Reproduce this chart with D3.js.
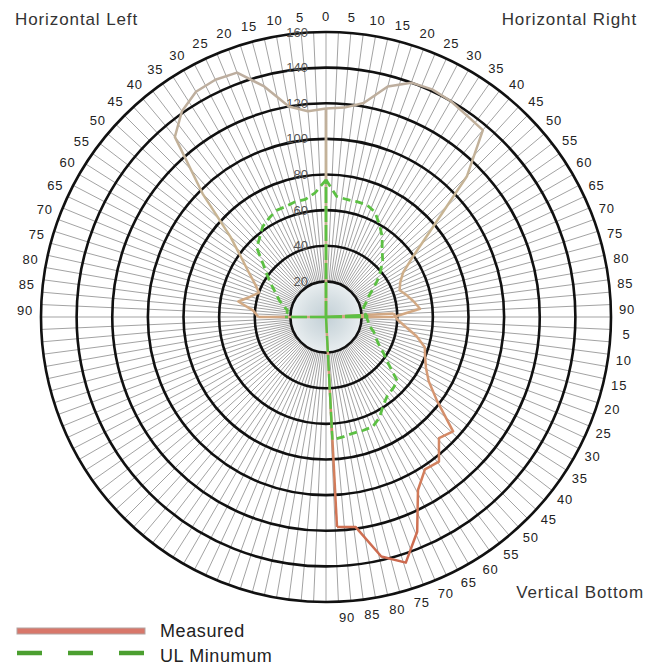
<!DOCTYPE html>
<html>
<head>
<meta charset="utf-8">
<script src="https://cdn.jsdelivr.net/npm/d3@7"></script>
<style>
  html, body { margin: 0; padding: 0; background: #ffffff; }
  svg { display: block; font-family: "Liberation Sans", Arial, Helvetica, sans-serif; }
</style>
</head>
<body>
<svg id="chart" width="652" height="666"></svg>
<script>
// ---- data -------------------------------------------------------------
// angle steps (degrees) for every quadrant, candela rings
const angleTicks = [0, 5, 10, 15, 20, 25, 30, 35, 40, 45, 50, 55, 60, 65, 70, 75, 80, 85, 90];
const ringValues = [20, 40, 60, 80, 100, 120, 140, 160];

// measured intensity, one value per angle step
const measuredLeft   = [117, 116, 120, 134, 146, 147, 146, 141, 132, 98, 70, 58, 50, 44, 40, 44, 50, 41, 38];
const measuredRight  = [117, 118, 122, 134, 140, 141, 140, 138, 137, 112, 78, 60, 50, 46, 44, 47, 50, 53, 38];
const measuredBottom = [38, 40, 45, 52, 58, 60, 63, 68, 78, 96, 93, 103, 102, 110, 131, 145, 138, 119, 118];

// UL minimum requirement, one value per angle step
const ulLeft   = [77, 70, 67, 67, 66, 66, 64, 62, 58, 55, 46, 40, 35, 31, 28, 25, 22, 22, 23];
const ulRight  = [77, 68, 67, 67, 67, 65, 60, 55, 49, 45, 40, 35, 30, 26, 24, 22, 21, 22, 23];
const ulBottom = [23, 23, 24, 25, 28, 30, 33, 38, 44, 54, 55, 56, 59, 64, 67, 67, 67, 68, 69];

const quadrantTitles = ["Horizontal Left", "Horizontal Right", "Vertical Bottom"];
const legendLabels = ["Measured", "UL Minumum"];

// ---- layout -----------------------------------------------------------
const cx = 326, cy = 317, R = 285;
const deg = Math.PI / 180;
const svg = d3.select("#chart");

const r = d3.scaleLinear().domain([0, 160]).range([0, R]);
// angle scales (radians, clockwise from 12 o'clock) for each quadrant
const angleLeft   = d3.scaleLinear().domain([0, 90]).range([0, -90 * deg]);
const angleRight  = d3.scaleLinear().domain([0, 90]).range([0, 90 * deg]);
const angleBottom = d3.scaleLinear().domain([0, 90]).range([87 * deg, 177 * deg]);

// label placement around the rim (kept slightly inside each quadrant's ends)
const labelLeft   = d3.scaleLinear().domain([0, 90]).range([0, -88.8 * deg]);
const labelRight  = d3.scaleLinear().domain([0, 90]).range([0, 88.6 * deg]);
const labelBottom = d3.scaleLinear().domain([5, 90]).range([93.4 * deg, 176 * deg]);

const defs = svg.append("defs");
const hub = defs.append("radialGradient").attr("id", "hub");
hub.append("stop").attr("offset", "0%").attr("stop-color", "#c3d0d7");
hub.append("stop").attr("offset", "55%").attr("stop-color", "#d6dfe3");
hub.append("stop").attr("offset", "100%").attr("stop-color", "#e9eef0");

const mg = defs.append("linearGradient").attr("id", "measGrad")
  .attr("gradientUnits", "userSpaceOnUse")
  .attr("x1", 0).attr("y1", -R).attr("x2", 0).attr("y2", R);
mg.append("stop").attr("offset", "0%").attr("stop-color", "#b9aba2");
mg.append("stop").attr("offset", "35%").attr("stop-color", "#c9b693");
mg.append("stop").attr("offset", "55%").attr("stop-color", "#d6a27c");
mg.append("stop").attr("offset", "80%").attr("stop-color", "#d27a58");
mg.append("stop").attr("offset", "100%").attr("stop-color", "#c9604a");

const g = svg.append("g").attr("transform", `translate(${cx},${cy})`);

// ---- grid ---------------------------------------------------------------
g.append("circle").attr("r", r(20)).attr("fill", "url(#hub)");

const spokeAngles = d3.range(0, 360, 2.5);
g.append("g").selectAll("line").data(spokeAngles).join("line")
  .attr("x1", d => r(20) * Math.sin(d * deg))
  .attr("y1", d => -r(20) * Math.cos(d * deg))
  .attr("x2", d => R * Math.sin(d * deg))
  .attr("y2", d => -R * Math.cos(d * deg))
  .attr("stroke", "#a3a3a3")
  .attr("stroke-width", 1);

g.append("g").selectAll("circle").data(ringValues).join("circle")
  .attr("r", d => r(d))
  .attr("fill", "none")
  .attr("stroke", "#111")
  .attr("stroke-width", 2.6);

g.append("g").selectAll("text").data(ringValues).join("text")
  .attr("x", -18)
  .attr("y", d => -r(d))
  .attr("text-anchor", "end")
  .attr("dominant-baseline", "central")
  .attr("font-size", 13)
  .attr("fill", "#555")
  .text(d => d);

// ---- angle labels -------------------------------------------------------
const L = 301;
function labelData(scale, ticks) {
  return ticks.map(t => ({ t, a: scale(t) }));
}
const labels = [].concat(
  labelData(labelRight, angleTicks),
  labelData(labelLeft, angleTicks.slice(1)),
  labelData(labelBottom, angleTicks.slice(1))
);
g.append("g").selectAll("text").data(labels).join("text")
  .attr("x", d => L * Math.sin(d.a))
  .attr("y", d => -L * Math.cos(d.a))
  .attr("text-anchor", "middle")
  .attr("dominant-baseline", "central")
  .attr("font-size", 13)
  .attr("letter-spacing", 0.8)
  .attr("fill", "#222")
  .text(d => d.t);

// ---- series -------------------------------------------------------------
const radial = d3.lineRadial().angle(d => d.a).radius(d => r(d.v));

function points(scale, values) {
  return angleTicks.map((t, i) => ({ a: scale(t), v: values[i] }));
}
function spokes(pts) {
  const first = pts[0], last = pts[pts.length - 1];
  return [[{ a: first.a, v: 0 }, first], [{ a: last.a, v: 0 }, last]];
}

const measured = [
  points(angleLeft, measuredLeft),
  points(angleRight, measuredRight),
  points(angleBottom, measuredBottom)
];
const ul = [
  points(angleLeft, ulLeft),
  points(angleRight, ulRight),
  points(angleBottom, ulBottom)
];

const mG = g.append("g").attr("fill", "none")
  .attr("stroke", "url(#measGrad)").attr("stroke-width", 2.5)
  .attr("stroke-linejoin", "round");
mG.selectAll("path.curve").data(measured).join("path")
  .attr("class", "curve").attr("d", radial);
mG.selectAll("path.spoke").data(measured.flatMap(spokes)).join("path")
  .attr("class", "spoke").attr("d", radial);

const uG = g.append("g").attr("fill", "none")
  .attr("stroke", "#5cc043").attr("stroke-width", 2.8);
uG.selectAll("path.curve").data(ul).join("path")
  .attr("class", "curve").attr("d", radial)
  .attr("stroke-dasharray", "8,5");
uG.selectAll("path.spoke").data(ul.flatMap(spokes)).join("path")
  .attr("class", "spoke").attr("d", radial)
  .attr("stroke-width", 2.4)
  .attr("stroke-dasharray", "16,3");

// ---- titles -------------------------------------------------------------
const titlePos = [[15, 25, "start"], [637, 25, "end"], [644, 598, "end"]];
svg.append("g").selectAll("text").data(quadrantTitles).join("text")
  .attr("x", (d, i) => titlePos[i][0])
  .attr("y", (d, i) => titlePos[i][1])
  .attr("text-anchor", (d, i) => titlePos[i][2])
  .attr("font-size", 17)
  .attr("letter-spacing", 0.9)
  .attr("fill", "#333")
  .text(d => d);

// ---- legend -------------------------------------------------------------
const lg = svg.append("g");
lg.append("rect").attr("x", 17).attr("y", 628).attr("width", 128).attr("height", 6)
  .attr("fill", "#d8776a").attr("stroke", "#b3a4a2").attr("stroke-width", 1);
lg.append("line").attr("x1", 17).attr("x2", 145).attr("y1", 653).attr("y2", 653)
  .attr("stroke", "#4b9f30").attr("stroke-width", 4.5)
  .attr("stroke-dasharray", "25,26");
lg.selectAll("text").data(legendLabels).join("text")
  .attr("x", 160)
  .attr("y", (d, i) => 637 + i * 25)
  .attr("font-size", 18)
  .attr("letter-spacing", 0.6)
  .attr("fill", "#222")
  .text(d => d);
</script>
</body>
</html>
